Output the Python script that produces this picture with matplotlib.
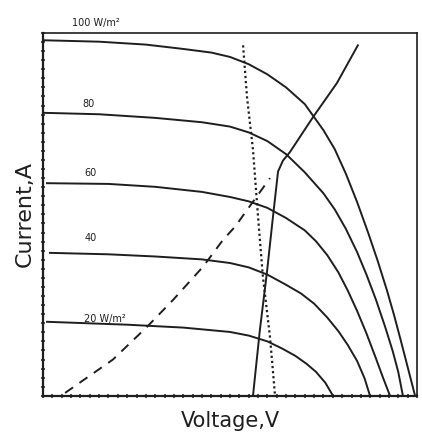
import matplotlib
matplotlib.use("Agg")
import matplotlib.pyplot as plt
from matplotlib.ticker import MultipleLocator, NullFormatter

# I-V curves of the module at five irradiance levels
v_100 = [0, 3, 5.5, 7.5, 9, 10, 11, 12, 13, 14, 15, 15.6, 16.2, 16.8, 17.4,
         17.9, 18.4, 18.8, 19.2, 19.5, 19.75, 19.9]
i_100 = [4.90, 4.88, 4.84, 4.78, 4.73, 4.67, 4.57, 4.43, 4.25, 4.02, 3.66,
         3.40, 3.06, 2.67, 2.24, 1.86, 1.45, 1.09, 0.70, 0.40, 0.15, 0]

v_80 = [0, 3, 6, 8.5, 10, 11, 12, 13, 14, 15, 15.6, 16.2, 16.8, 17.3, 17.8,
        18.3, 18.7, 19.0, 19.25]
i_80 = [3.90, 3.88, 3.83, 3.77, 3.71, 3.63, 3.51, 3.33, 3.08, 2.79, 2.57,
        2.30, 1.98, 1.67, 1.33, 0.95, 0.62, 0.33, 0]

v_60 = [0.21, 3.5, 6, 8.5, 10, 11, 12, 13, 14, 14.6, 15.2, 15.8, 16.3, 16.8,
        17.3, 17.8, 18.2, 18.56]
i_60 = [2.93, 2.92, 2.88, 2.81, 2.74, 2.68, 2.59, 2.45, 2.28, 2.13, 1.94,
        1.70, 1.45, 1.17, 0.86, 0.52, 0.24, 0]

v_40 = [0.37, 3.5, 6, 8.5, 10, 11, 12, 13, 13.8, 14.5, 15.2, 15.8, 16.3,
        16.8, 17.2, 17.49]
i_40 = [1.97, 1.95, 1.92, 1.88, 1.83, 1.77, 1.67, 1.53, 1.41, 1.27, 1.08,
        0.89, 0.70, 0.48, 0.24, 0]

v_20 = [0.21, 4.5, 7.5, 10, 11, 12, 12.8, 13.5, 14.1, 14.6, 15.1, 15.51]
i_20 = [1.02, 0.98, 0.94, 0.88, 0.83, 0.75, 0.65, 0.55, 0.44, 0.33, 0.18, 0]

# load line (solid)
v_load = [11.23, 11.60, 11.98, 12.30, 12.57, 12.83, 13.21, 14.44, 15.72, 16.84]
i_load = [0, 0.91, 1.71, 2.47, 3.09, 3.24, 3.36, 3.84, 4.31, 4.83]

# dotted line
v_dot = [10.70, 10.91, 11.23, 11.50, 11.76, 12.14, 12.41]
i_dot = [4.83, 4.12, 3.39, 2.47, 1.64, 0.81, 0]

# dashed curve
v_dash = [1.18, 3.74, 5.56, 6.95, 8.56, 9.63, 10.27, 10.91, 12.14]
i_dash = [0.04, 0.50, 0.95, 1.32, 1.78, 2.15, 2.33, 2.56, 3.00]

curve_labels = ["100 W/m²", "80", "60", "40", "20 W/m²"]
label_pos = [(1.55, 5.14), (2.1, 4.02), (2.2, 3.07), (2.2, 2.18), (2.2, 1.06)]

ink = "#1e1e1e"

fig = plt.figure(figsize=(4.22, 4.34), dpi=100)
ax = fig.add_axes([0.102, 0.088, 0.886, 0.836])

for v, i in [(v_100, i_100), (v_80, i_80), (v_60, i_60), (v_40, i_40), (v_20, i_20)]:
    ax.plot(v, i, color=ink, lw=1.4)

ax.plot(v_load, i_load, color=ink, lw=1.4)
ax.plot(v_dot, i_dot, color=ink, lw=1.6, linestyle=(0, (1, 1.3)))
ax.plot(v_dash, i_dash, color=ink, lw=1.4, linestyle=(0, (5, 4)))

for txt, (x, y) in zip(curve_labels, label_pos):
    ax.text(x, y, txt, fontsize=7, color=ink, va="center", ha="left",
            clip_on=False)

ax.set_xlim(0, 20)
ax.set_ylim(0, 5)
ax.xaxis.set_major_locator(MultipleLocator(0.5))
ax.yaxis.set_major_locator(MultipleLocator(0.125))
ax.xaxis.set_major_formatter(NullFormatter())
ax.yaxis.set_major_formatter(NullFormatter())
ax.tick_params(direction="inout", length=3.5, width=1.1, color=ink)

for s in ax.spines.values():
    s.set_color(ink)
    s.set_linewidth(1.2)
ax.spines["left"].set_linewidth(1.6)
ax.spines["bottom"].set_linewidth(1.6)

ax.set_xlabel("Voltage,V", fontsize=15, color=ink, labelpad=6)
ax.set_ylabel("Current,A", fontsize=16, color=ink, labelpad=1)

fig.savefig("out.png", dpi=100)
